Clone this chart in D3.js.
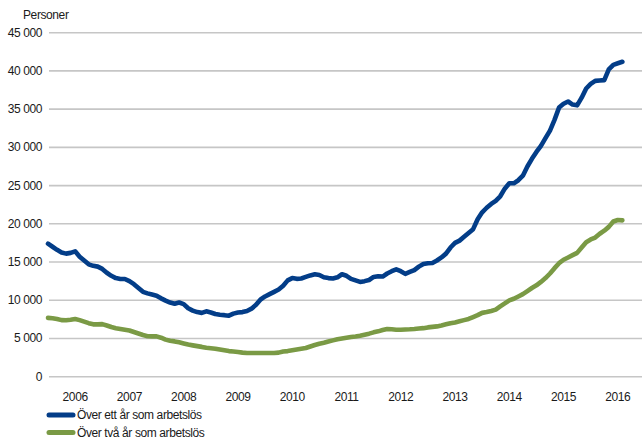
<!DOCTYPE html>
<html lang="sv">
<head>
<meta charset="utf-8">
<title>Långtidsarbetslösa</title>
<script src="https://d3js.org/d3.v7.min.js"></script>
<style>
body { margin: 0; background: #fff; }
text { font-family: "Liberation Sans", Arial, sans-serif; fill: #1a1a1a; }
.grid line { stroke: #c6c6c6; stroke-width: 1.6; }
.tick-label { font-size: 12px; letter-spacing: -0.4px; }
.series { fill: none; stroke-width: 4.6; stroke-linejoin: round; stroke-linecap: round; }
</style>
</head>
<body>
<div id="chart"></div>
<script>
// monthly values, January 2006 onwards
var startYear = 2006;
var years = [2006, 2007, 2008, 2009, 2010, 2011, 2012, 2013, 2014, 2015, 2016];
var yTicks = [0, 5000, 10000, 15000, 20000, 25000, 30000, 35000, 40000, 45000];

var overEttAr = [
  17400, 17000, 16600, 16250, 16100, 16200, 16400, 15700, 15200, 14700, 14500, 14400,
  14100, 13600, 13200, 12900, 12780, 12780, 12500, 12100, 11600, 11100, 10900, 10750,
  10600, 10250, 9950, 9700, 9550, 9700, 9500, 8950, 8650, 8450, 8350, 8550,
  8400, 8200, 8100, 8050, 7980, 8250, 8400, 8450, 8600, 8900, 9400, 10100,
  10500, 10800, 11100, 11400, 11900, 12600, 12900, 12800, 12850, 13050, 13250, 13400,
  13300, 13000, 12900, 12850, 13000, 13400, 13200, 12800, 12600, 12400, 12500, 12650,
  13050, 13150, 13100, 13500, 13800, 14050, 13800, 13450, 13700, 13950, 14400, 14750,
  14850, 14880, 15200, 15600, 16100, 16900, 17500, 17800, 18300, 18800, 19300, 20600,
  21500, 22100, 22600, 23000, 23600, 24600, 25300, 25300, 25700, 26300, 27500, 28500,
  29400, 30200, 31200, 32200, 33600, 35200, 35700, 36000, 35600, 35500, 36500, 37700,
  38300, 38700, 38750, 38800, 40200, 40800, 41000, 41200
];

var overTvaAr = [
  7700, 7650, 7550, 7400, 7380, 7450, 7550, 7400, 7200, 7000, 6850, 6850,
  6880, 6700, 6500, 6350, 6250, 6150, 6050, 5850, 5650, 5450, 5300, 5270,
  5270, 5100, 4850, 4700, 4620, 4500, 4350, 4200, 4100, 4000, 3900, 3780,
  3720, 3660, 3550, 3450, 3350, 3300, 3230, 3150, 3100, 3100, 3100, 3100,
  3100, 3100, 3100, 3150, 3300, 3350, 3450, 3550, 3650, 3750, 3950, 4150,
  4320, 4450, 4600, 4750, 4900, 5000, 5100, 5200, 5270, 5360, 5500, 5630,
  5800, 5930, 6100, 6240, 6200, 6150, 6150, 6180, 6200, 6240, 6300, 6350,
  6450, 6520, 6580, 6700, 6850, 7000, 7100, 7250, 7400, 7550, 7800, 8050,
  8350, 8450, 8600, 8770, 9200, 9600, 9980, 10200, 10500, 10800, 11200, 11600,
  11950, 12400, 12900, 13500, 14200, 14850, 15300, 15600, 15900, 16200, 16900, 17600,
  17950, 18200, 18700, 19100, 19600, 20300, 20500, 20450
];

var seriesNames = ["Över ett år som arbetslös", "Över två år som arbetslös"];
var seriesColors = ["#033d88", "#7a9a45"];

var w = 642, h = 439;
var svg = d3.select("#chart").append("svg").attr("width", w).attr("height", h);

var x = d3.scaleLinear().domain([2006, 2017]).range([48, 48 + 11 * 54.27]);
var y = d3.scaleLinear().domain([0, 45000]).range([376.7, 32.7]);

var sv = d3.formatLocale({ decimal: ",", thousands: " ", grouping: [3], currency: ["", ""] });
var fmt = sv.format(",d");

// grid + y labels
var grid = svg.append("g").attr("class", "grid");
grid.selectAll("line").data(yTicks).enter().append("line")
  .attr("x1", 49).attr("x2", w)
  .attr("y1", function(d) { return y(d); })
  .attr("y2", function(d) { return y(d); });

svg.selectAll(".ylab").data(yTicks).enter().append("text")
  .attr("class", "tick-label ylab")
  .attr("x", 42).attr("y", function(d) { return y(d) + 4; })
  .attr("text-anchor", "end")
  .text(function(d) { return fmt(d); });

svg.append("text").attr("class", "tick-label")
  .attr("x", 23).attr("y", 19).text("Personer");

// year labels, centred in each year
svg.selectAll(".xlab").data(years).enter().append("text")
  .attr("class", "tick-label xlab")
  .attr("x", function(d) { return x(d + 0.5); })
  .attr("y", 401)
  .attr("text-anchor", "middle")
  .text(function(d) { return d; });

// lines
var line = d3.line()
  .x(function(d, i) { return x(startYear + i / 12); })
  .y(function(d) { return y(d); });

[overTvaAr, overEttAr].forEach(function(s, k) {
  svg.append("path").datum(s)
    .attr("class", "series")
    .attr("stroke", seriesColors[1 - k])
    .attr("d", line);
});

// legend
var leg = svg.selectAll(".leg").data(seriesNames).enter().append("g")
  .attr("transform", function(d, i) { return "translate(0," + (415 + i * 17.5) + ")"; });
leg.append("line")
  .attr("x1", 49).attr("x2", 73).attr("y1", 0).attr("y2", 0)
  .attr("stroke", function(d, i) { return seriesColors[i]; })
  .attr("stroke-width", 5).attr("stroke-linecap", "round");
leg.append("text").attr("class", "tick-label")
  .attr("x", 77).attr("y", 4).text(function(d) { return d; });
</script>
</body>
</html>
